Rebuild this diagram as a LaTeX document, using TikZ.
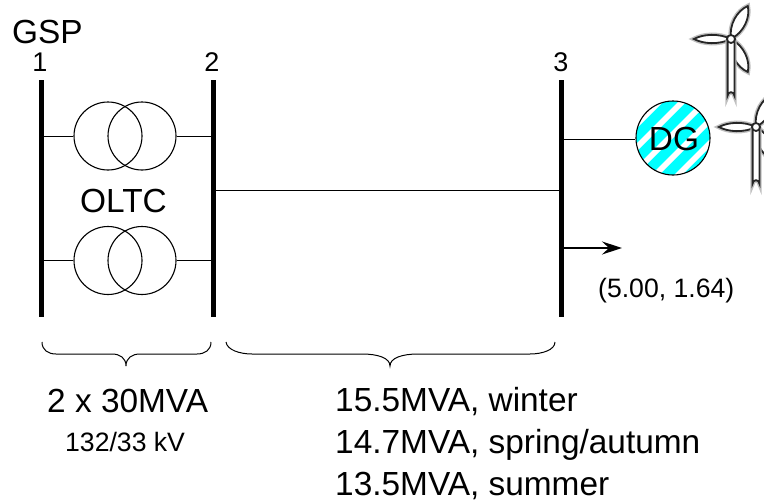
\documentclass[tikz,border=0pt]{standalone}
\usepackage{fontspec}
\setmainfont{Liberation Sans}
\usetikzlibrary{arrows.meta,calc}
\definecolor{dgcyan}{RGB}{0,255,255}
\tikzset{
  busbar/.style={line width=5pt},
  wire/.style={line width=1pt},
  txcircle/.style={circle,draw,line width=1.1pt,minimum size=68pt,inner sep=0pt},
  lbl/.style={inner sep=0pt,font=\fontsize{33.4}{33.4}\selectfont},
  small/.style={inner sep=0pt,font=\fontsize{27}{27}\selectfont},
  tiny/.style={inner sep=0pt,font=\fontsize{26.6}{26.6}\selectfont},
  blade/.style={draw=black!85,line width=1.8pt,fill=white},
  halo/.style={draw=black!25,line width=4.6pt},
  pics/turbine/.style={code={
    \foreach \a/\w in {0/6,117/8.5,243/8.5}{
      \draw[halo,rotate=\a] (0,0) .. controls (-12,-\w) and (-28,-\w+1) .. (-37,0) .. controls (-28,\w-1) and (-12,\w) .. (0,0);
      \draw[blade,rotate=\a] (0,0) .. controls (-12,-\w) and (-28,-\w+1) .. (-37,0) .. controls (-28,\w-1) and (-12,\w) .. (0,0);
    }
    \draw[halo] (-3.4,0) -- (-3.4,56.6) arc[start angle=180,end angle=360,radius=3.4] -- (3.4,0);
    \draw[blade] (-3.4,0) -- (-3.4,56.6) arc[start angle=180,end angle=360,radius=3.4] -- (3.4,0) -- cycle;
    \draw[blade] (0,0) circle[radius=4];
  }}
}
\begin{document}
\begin{tikzpicture}[x=1pt,y=-1pt]
\useasboundingbox (0,0) rectangle (764,501);
% buses
\coordinate (b1t) at (41,80); \coordinate (b1b) at (41,317);
\coordinate (b2t) at (213.5,80); \coordinate (b2b) at (213.5,317);
\coordinate (b3t) at (561,80); \coordinate (b3b) at (561,317);
\draw[busbar] (b1t) -- (b1b);
\draw[busbar] (b2t) -- (b2b);
\draw[busbar] (b3t) -- (b3b);
% transformers
\node[txcircle] (ta1) at (108,136) {};
\node[txcircle] (ta2) at (142,136) {};
\node[txcircle] (tb1) at (108,260.5) {};
\node[txcircle] (tb2) at (142,260.5) {};
\coordinate (a1) at (41,136); \coordinate (a2) at (213.5,136);
\coordinate (c1) at (41,260.5); \coordinate (c2) at (213.5,260.5);
\draw[wire] (a1) -- (ta1.west);
\draw[wire] (ta2.east) -- (a2);
\draw[wire] (c1) -- (tb1.west);
\draw[wire] (tb2.east) -- (c2);
% line 2-3
\coordinate (l2) at (213.5,190.5); \coordinate (l3) at (561,190.5);
\draw[wire] (l2) -- (l3);
% load arrow
\coordinate (ld0) at (561,248); \coordinate (ld1) at (622,248);
\draw[line width=2pt,-{Stealth[length=20pt,width=13pt,inset=7pt]}] (ld0) -- (ld1);
% turbines
\path (731,39) pic {turbine};
\path (756,127) pic {turbine};
% DG
\begin{scope}
\clip (673,138) circle[radius=37];
\fill[dgcyan] (630,95) rectangle (716,181);
\foreach \d in {-77,-54,-31,-8,15,38,61}{
  \fill[white] (673+\d-60,138+60) -- (673+\d+8-60,138+60) -- (673+\d+8+60,138-60) -- (673+\d+60,138-60) -- cycle;
}
\end{scope}
\node[circle,draw,line width=1.1pt,minimum size=74pt,inner sep=0pt] (dg) at (673,138) {};
\node[lbl,anchor=base] (dgt) at (674,150) {DG};
\coordinate (w3) at (561,139.5);
\draw[wire] (w3) -- (dg.west |- w3);
% labels
\node[lbl,anchor=base west] (gsp) at (12,43) {GSP};
\node[small,anchor=base] (n1) at (40,71) {1};
\node[small,anchor=base] (n2) at (212,71) {2};
\node[small,anchor=base] (n3) at (561,71) {3};
\node[lbl,anchor=base] (oltc) at (123.5,212) {OLTC};
\node[tiny,anchor=base west] (load) at (598,297) {(5.00, 1.64)};
\node[lbl,anchor=base west] (cap) at (47,412) {2 x 30MVA};
\node[tiny,anchor=base west] (kv) at (65,451) {132/33 kV};
\node[lbl,anchor=base west] (w) at (335,411) {15.5MVA, winter};
\node[lbl,anchor=base west] (s) at (335,453.5) {14.7MVA, spring/autumn};
\node[lbl,anchor=base west] (u) at (335,495) {13.5MVA, summer};
% braces
\coordinate (br1) at (42,342); \coordinate (br2) at (211,342);
\coordinate (br1t) at (126,366);
\draw[line width=1pt] (br1) .. controls (42,350) and (48,354) .. (56,354) -- (112,354) .. controls (120,354) and (126,358) .. (br1t) .. controls (126,358) and (132,354) .. (140,354) -- (197,354) .. controls (205,354) and (211,350) .. (br2);
\coordinate (br3) at (226,342); \coordinate (br4) at (555,342);
\coordinate (br3t) at (390,366);
\draw[line width=1pt] (br3) .. controls (227,350) and (240,354) .. (252,354) -- (362,354) .. controls (378,354) and (390,358) .. (br3t) .. controls (390,358) and (402,354) .. (418,354) -- (530,354) .. controls (542,354) and (555,350) .. (br4);
\end{tikzpicture}
\end{document}
